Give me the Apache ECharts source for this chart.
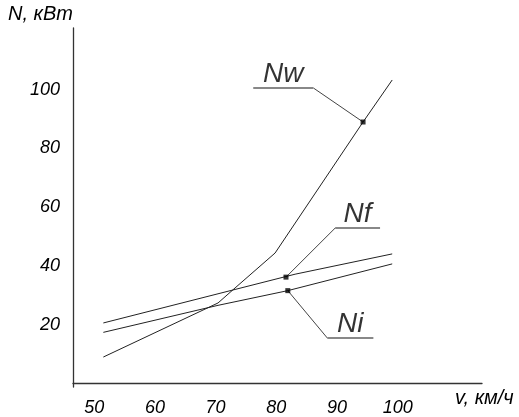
<!DOCTYPE html>
<html>
<head>
<meta charset="utf-8">
<script src="https://cdn.jsdelivr.net/npm/echarts@6/dist/echarts.min.js"></script>
<style>html,body{margin:0;padding:0;background:#fff;}#c{width:519px;height:417px;}</style>
</head>
<body>
<div id="c"></div>
<script>
// Axis tick labels
const xTicks = [50, 60, 70, 80, 90, 100];
const yTicks = [20, 40, 60, 80, 100];

// Series data (v, км/ч ; N, кВт)
const vNw = [51.5, 70.4, 73.2, 79.8, 94.3, 99.1];
const nNw = [9.0, 27.4, 32.5, 44.4, 89.0, 103.3];
const vNf = [51.5, 73.2, 83.1, 99.1];
const nNf = [20.6, 32.0, 37.2, 44.1];
const vNi = [51.5, 70.4, 81.9, 99.1];
const nNi = [17.4, 26.6, 31.6, 40.7];

// Annotations (leader lines with labels)
const annNames = ['Nw', 'Nf', 'Ni'];
const annDotV = [94.3, 81.6, 81.9];
const annDotN = [89.0, 36.2, 31.6];
const annElbowV = [86.1, 89.7, 88.4];
const annElbowN = [100.6, 52.9, 15.5];
const annEndV = [76.2, 97.1, 96.0];
const annEndN = [100.6, 52.9, 15.5];

const FONT = '"Liberation Sans", Arial, sans-serif';
const pair = (a, b) => a.map((v, i) => [v, b[i]]);

const series = [];
[[vNw, nNw], [vNf, nNf], [vNi, nNi]].forEach(([v, n], i) => {
  series.push({
    type: 'line', name: annNames[i], data: pair(v, n), symbol: 'none',
    lineStyle: { color: '#222', width: 1 }, silent: true, z: 3
  });
});
annNames.forEach((nm, i) => {
  series.push({
    type: 'line', data: [[annDotV[i], annDotN[i]], [annElbowV[i], annElbowN[i]]],
    symbol: 'none', lineStyle: { color: '#444', width: 1 }, silent: true, z: 2
  });
  series.push({
    type: 'line', data: [[annElbowV[i], annElbowN[i]], [annEndV[i], annEndN[i]]],
    symbol: 'none', lineStyle: { color: '#888', width: 2 }, silent: true, z: 2
  });
  series.push({
    type: 'scatter', data: [[annDotV[i], annDotN[i]]], symbol: 'rect', symbolSize: 5,
    itemStyle: { color: '#000' }, silent: true, z: 5
  });
  series.push({
    type: 'scatter', data: [[(annElbowV[i] + annEndV[i]) / 2, annElbowN[i]]], symbolSize: 0,
    silent: true, z: 5,
    label: {
      show: true, position: 'top', distance: 0, formatter: nm,
      fontFamily: FONT, fontStyle: 'italic', fontSize: 28, color: '#000'
    }
  });
});

const chart = echarts.init(document.getElementById('c'), null, { renderer: 'canvas' });
chart.setOption({
  animation: false,
  backgroundColor: '#fff',
  grid: { left: 73, right: 37, top: 28, bottom: 30, containLabel: false },
  xAxis: {
    type: 'value', min: 46.5, max: 113.9,
    name: 'v, км/ч', nameLocation: 'end', nameGap: -27,
    nameTextStyle: { fontFamily: FONT, fontStyle: 'italic', fontSize: 20, color: '#000',
      align: 'left', verticalAlign: 'top', padding: [5, 0, 0, 0] },
    axisLine: { show: true, lineStyle: { color: '#333', width: 1.3 } },
    axisTick: { show: false },
    splitLine: { show: false },
    axisLabel: { customValues: xTicks, margin: 12, fontFamily: FONT, fontStyle: 'italic',
      fontSize: 18, color: '#000' }
  },
  yAxis: {
    type: 'value', min: -1.2, max: 121,
    name: 'N, кВт', nameLocation: 'end', nameGap: 4,
    nameTextStyle: { fontFamily: FONT, fontStyle: 'italic', fontSize: 20, color: '#000',
      align: 'right' },
    axisLine: { show: true, lineStyle: { color: '#333', width: 1.3 } },
    axisTick: { show: false },
    splitLine: { show: false },
    axisLabel: { customValues: yTicks, margin: 13, fontFamily: FONT, fontStyle: 'italic',
      fontSize: 18, color: '#000' }
  },
  series: series
});
</script>
</body>
</html>
